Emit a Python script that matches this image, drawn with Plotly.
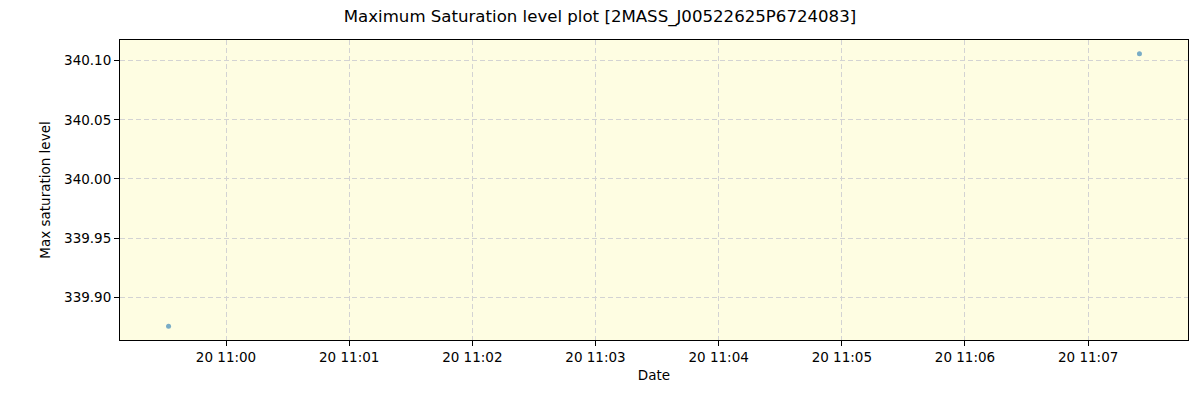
import plotly.graph_objects as go
from datetime import datetime

# observation times and max saturation levels
obs_times = ["2023-01-20 10:59:32", "2023-01-20 11:07:25"]
max_saturation = [339.8754, 340.1059]

title = "Maximum Saturation level plot [2MASS_J00522625P6724083]"

times = [datetime.strptime(t, "%Y-%m-%d %H:%M:%S") for t in obs_times]

# matplotlib-like 5% padding
span = times[-1] - times[0]
x_range = [times[0] - span * 0.05, times[-1] + span * 0.05]
y_span = max(max_saturation) - min(max_saturation)
y_range = [min(max_saturation) - y_span * 0.05, max(max_saturation) + y_span * 0.05]

fig = go.Figure()
fig.add_trace(go.Scatter(
    x=times,
    y=max_saturation,
    mode="markers",
    marker=dict(color="rgba(31,119,180,0.6)", size=5),
    showlegend=False,
))

axis_common = dict(
    showline=True,
    linecolor="black",
    linewidth=1,
    mirror=True,
    ticks="outside",
    ticklen=5,
    tickcolor="black",
    showgrid=True,
    gridcolor="#d3d3d3",
    griddash="5px,3px",
    gridwidth=1,
    zeroline=False,
    tickfont=dict(size=13.5, color="black"),
)

fig.update_xaxes(
    range=x_range,
    tickformat="%d %H:%M",
    dtick=60000,
    tick0="2023-01-20 11:00:00",
    title=dict(text="Date", font=dict(size=13.5, color="black"), standoff=6),
    **axis_common,
)
fig.update_yaxes(
    range=y_range,
    tickformat=".2f",
    dtick=0.05,
    tick0=339.9,
    title=dict(text="Max saturation level", font=dict(size=13.5, color="black"), standoff=10),
    **axis_common,
)

fig.update_layout(
    width=1200,
    height=400,
    margin=dict(l=120, r=12, t=40, b=60),
    paper_bgcolor="white",
    plot_bgcolor="#fefde2",
    font=dict(family="DejaVu Sans", color="black"),
    title=dict(text=title, x=0.5, xanchor="center", y=0.96, yanchor="middle",
               font=dict(size=16.6, color="black")),
)

# drop the default page margin so the figure sits at the window origin
fig.write_html("out.html", config={"displayModeBar": False},
               post_script="document.body.style.margin='0';")
